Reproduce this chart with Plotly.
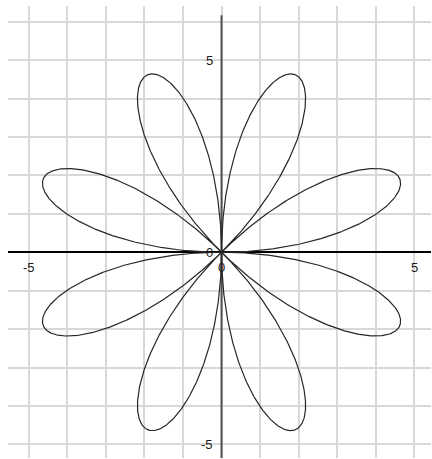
import numpy as np
import plotly.graph_objects as go

# Rose curve r = AMPLITUDE * sin(FREQUENCY * theta): 8 petals for an even frequency
AMPLITUDE = 5
FREQUENCY = 4

# Axis labels that are shown
x_label_values = [-5, 0, 5]
y_label_values = [-5, 0, 5]

# Visible window of the plane
x_range = [-5.535, 5.43]
y_range = [-5.355, 6.41]
y_axis_top = 6.17

theta = np.linspace(0, 2 * np.pi, 4001)
r = AMPLITUDE * np.sin(FREQUENCY * theta)
x = r * np.cos(theta)
y = r * np.sin(theta)

fig = go.Figure()
fig.add_trace(go.Scatter(
    x=x, y=y, mode="lines",
    line=dict(color="#262626", width=1.2),
    hoverinfo="skip", showlegend=False,
))

label_font = dict(family="Liberation Sans, Arial, sans-serif", size=13, color="#1a1a1a")
annotations = []
for v in x_label_values:
    annotations.append(dict(
        x=v, y=0, xref="x", yref="y", text=str(v), showarrow=False,
        xanchor="center", yanchor="middle", yshift=-15, font=label_font,
    ))
for v in y_label_values:
    annotations.append(dict(
        x=0, y=v, xref="x", yref="y", text=str(v), showarrow=False,
        xanchor="right", yanchor="middle", xshift=-7, font=label_font,
    ))

grid = dict(
    showgrid=True, gridcolor="#d8d8d8", gridwidth=2,
    dtick=1, tick0=0, showticklabels=False, ticks="",
    showline=False, fixedrange=True,
)

fig.update_layout(
    width=432, height=459,
    margin=dict(l=8, r=1, t=6, b=1),
    paper_bgcolor="white", plot_bgcolor="white",
    xaxis=dict(range=x_range, zeroline=False, **grid),
    yaxis=dict(range=y_range, zeroline=True, zerolinecolor="#000000",
               zerolinewidth=2, **grid),
    annotations=annotations,
    shapes=[dict(
        type="line", xref="x", yref="y", layer="between",
        x0=0, x1=0, y0=y_range[0], y1=y_axis_top,
        line=dict(color="#505050", width=2),
    )],
    showlegend=False,
)

fig.write_html("out.html")
